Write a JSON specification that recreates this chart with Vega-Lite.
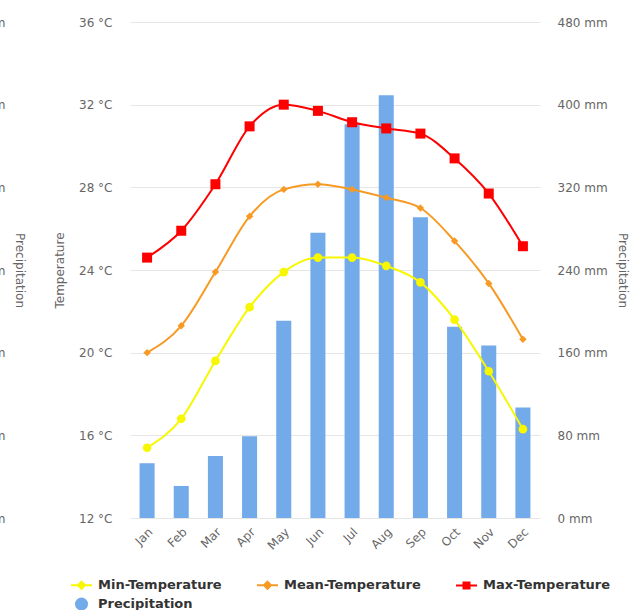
{
  "$schema": "https://vega.github.io/schema/vega-lite/v6.json",
  "width": 410,
  "height": 496,
  "autosize": {"type": "none"},
  "padding": {"left": 130, "top": 22, "right": 103, "bottom": 92},
  "background": "white",
  "config": {
    "view": {"stroke": null},
    "font": "DejaVu Sans",
    "axis": {"labelFont": "DejaVu Sans", "titleFont": "DejaVu Sans", "labelColor": "#666666", "titleColor": "#666666", "labelFontSize": 12, "titleFontSize": 12, "titleFontWeight": "normal"}
  },
  "datasets": {
    "prec": [
      {"month": "Jan", "series": "Precipitation", "precip": 53},
      {"month": "Feb", "series": "Precipitation", "precip": 31},
      {"month": "Mar", "series": "Precipitation", "precip": 60},
      {"month": "Apr", "series": "Precipitation", "precip": 79},
      {"month": "May", "series": "Precipitation", "precip": 191},
      {"month": "Jun", "series": "Precipitation", "precip": 276},
      {"month": "Jul", "series": "Precipitation", "precip": 381},
      {"month": "Aug", "series": "Precipitation", "precip": 409},
      {"month": "Sep", "series": "Precipitation", "precip": 291},
      {"month": "Oct", "series": "Precipitation", "precip": 185},
      {"month": "Nov", "series": "Precipitation", "precip": 167},
      {"month": "Dec", "series": "Precipitation", "precip": 107}
    ],
    "temp": [
      {"month": "Jan", "series": "Min-Temperature", "t": 15.4},
      {"month": "Feb", "series": "Min-Temperature", "t": 16.8},
      {"month": "Mar", "series": "Min-Temperature", "t": 19.6},
      {"month": "Apr", "series": "Min-Temperature", "t": 22.2},
      {"month": "May", "series": "Min-Temperature", "t": 23.9},
      {"month": "Jun", "series": "Min-Temperature", "t": 24.6},
      {"month": "Jul", "series": "Min-Temperature", "t": 24.6},
      {"month": "Aug", "series": "Min-Temperature", "t": 24.2},
      {"month": "Sep", "series": "Min-Temperature", "t": 23.4},
      {"month": "Oct", "series": "Min-Temperature", "t": 21.6},
      {"month": "Nov", "series": "Min-Temperature", "t": 19.1},
      {"month": "Dec", "series": "Min-Temperature", "t": 16.3},
      {"month": "Jan", "series": "Mean-Temperature", "t": 20.0},
      {"month": "Feb", "series": "Mean-Temperature", "t": 21.3},
      {"month": "Mar", "series": "Mean-Temperature", "t": 23.9},
      {"month": "Apr", "series": "Mean-Temperature", "t": 26.6},
      {"month": "May", "series": "Mean-Temperature", "t": 27.9},
      {"month": "Jun", "series": "Mean-Temperature", "t": 28.15},
      {"month": "Jul", "series": "Mean-Temperature", "t": 27.9},
      {"month": "Aug", "series": "Mean-Temperature", "t": 27.5},
      {"month": "Sep", "series": "Mean-Temperature", "t": 27.0},
      {"month": "Oct", "series": "Mean-Temperature", "t": 25.4},
      {"month": "Nov", "series": "Mean-Temperature", "t": 23.35},
      {"month": "Dec", "series": "Mean-Temperature", "t": 20.65},
      {"month": "Jan", "series": "Max-Temperature", "t": 24.6},
      {"month": "Feb", "series": "Max-Temperature", "t": 25.9},
      {"month": "Mar", "series": "Max-Temperature", "t": 28.15},
      {"month": "Apr", "series": "Max-Temperature", "t": 30.95},
      {"month": "May", "series": "Max-Temperature", "t": 32.0},
      {"month": "Jun", "series": "Max-Temperature", "t": 31.7},
      {"month": "Jul", "series": "Max-Temperature", "t": 31.15},
      {"month": "Aug", "series": "Max-Temperature", "t": 30.85},
      {"month": "Sep", "series": "Max-Temperature", "t": 30.6},
      {"month": "Oct", "series": "Max-Temperature", "t": 29.4},
      {"month": "Nov", "series": "Max-Temperature", "t": 27.7},
      {"month": "Dec", "series": "Max-Temperature", "t": 25.15}
    ]
  },
  "layer": [
    {
      "data": {"name": "prec"},
      "mark": {"type": "bar", "width": {"band": 0.44}},
      "encoding": {
        "x": {"field": "month", "type": "ordinal", "sort": ["Jan","Feb","Mar","Apr","May","Jun","Jul","Aug","Sep","Oct","Nov","Dec"],
              "scale": {"paddingInner": 0, "paddingOuter": 0},
              "axis": {"title": null, "labelAngle": -45, "ticks": false, "domain": false, "labelPadding": 8, "grid": false}},
        "y": {"field": "precip", "type": "quantitative", "scale": {"domain": [0, 480], "nice": false},
              "axis": {"orient": "right", "title": "Precipitation", "values": [0,80,160,240,320,400,480], "labelExpr": "datum.value + ' mm'", "ticks": false, "domain": false, "grid": false, "labelPadding": 17, "titlePadding": 8, "titleAngle": 90}},
        "color": {"field": "series", "type": "nominal",
                  "scale": {"domain": ["Min-Temperature","Mean-Temperature","Max-Temperature","Precipitation"], "range": ["#f7f700","#f79a24","#ff0000","#72aaea"]}}
      }
    },
    {
      "data": {"name": "temp"},
      "encoding": {
        "x": {"field": "month", "type": "ordinal", "sort": ["Jan","Feb","Mar","Apr","May","Jun","Jul","Aug","Sep","Oct","Nov","Dec"]},
        "y": {"field": "t", "type": "quantitative", "scale": {"domain": [12, 36], "nice": false},
              "axis": {"orient": "left", "title": "Temperature", "values": [12,16,20,24,28,32,36], "labelExpr": "datum.value + ' °C'", "ticks": false, "domain": false, "grid": true, "gridColor": "#e6e6e6", "labelPadding": 18, "titlePadding": 12}},
        "color": {"field": "series", "type": "nominal",
                  "legend": {
                    "title": null, "orient": "none", "legendX": -56.5, "legendY": 555, "direction": "horizontal", "columns": 3,
                    "columnPadding": 30, "rowPadding": 1, "padding": 0, "gridAlign": "each",
                    "symbolSize": 196, "labelOffset": 8.5, "labelFont": "DejaVu Sans", "labelFontSize": 13, "labelFontWeight": "bold", "labelColor": "#333333", "labelLimit": 300,
                    "encode": {"symbols": {"update": {
                      "shape": {"signal": "datum.value === 'Precipitation' ? 'M-0.79,0A0.79,0.79 0 1,0 0.79,0A0.79,0.79 0 1,0 -0.79,0Z' : datum.value === 'Max-Temperature' ? 'M-1.5,0H1.5M-0.43,-0.43H0.43V0.43H-0.43Z' : 'M-1.5,0H1.5M0,-0.5L0.5,0L0,0.5L-0.5,0Z'"},
                      "fill": {"signal": "scale('color', datum.value)"},
                      "stroke": {"signal": "datum.value === 'Precipitation' ? 'transparent' : scale('color', datum.value)"},
                      "strokeWidth": {"value": 2},
                      "opacity": {"value": 1},
                      "fillOpacity": {"value": 1}
                    }}}
                  }}
      },
      "layer": [
        {"mark": {"type": "line", "interpolate": "monotone", "strokeWidth": 2}},
        {"mark": {"type": "point", "filled": true, "opacity": 1},
         "encoding": {
           "shape": {"field": "series", "type": "nominal", "scale": {"domain": ["Min-Temperature","Mean-Temperature","Max-Temperature"], "range": ["circle","diamond","square"]}, "legend": null},
           "size": {"field": "series", "type": "nominal", "scale": {"type": "ordinal", "domain": ["Min-Temperature","Mean-Temperature","Max-Temperature"], "range": [75, 55, 100]}, "legend": null}
         }}
      ]
    },
    {
      "data": {"name": "prec"},
      "mark": {"type": "bar", "opacity": 0},
      "encoding": {
        "x": {"field": "month", "type": "ordinal", "sort": ["Jan","Feb","Mar","Apr","May","Jun","Jul","Aug","Sep","Oct","Nov","Dec"]},
        "y": {"field": "precip", "type": "quantitative", "scale": {"domain": [0, 480], "nice": false},
              "axis": {"orient": "left", "offset": 108, "title": "Precipitation", "values": [0,80,160,240,320,400,480], "labelExpr": "datum.value + ' mm'", "ticks": false, "domain": false, "grid": false, "labelPadding": 17, "titleAngle": 90, "titleX": -3, "titleY": 248, "titleAlign": "center", "titleBaseline": "middle"}}
      }
    }
  ],
  "resolve": {"scale": {"y": "independent"}}
}
